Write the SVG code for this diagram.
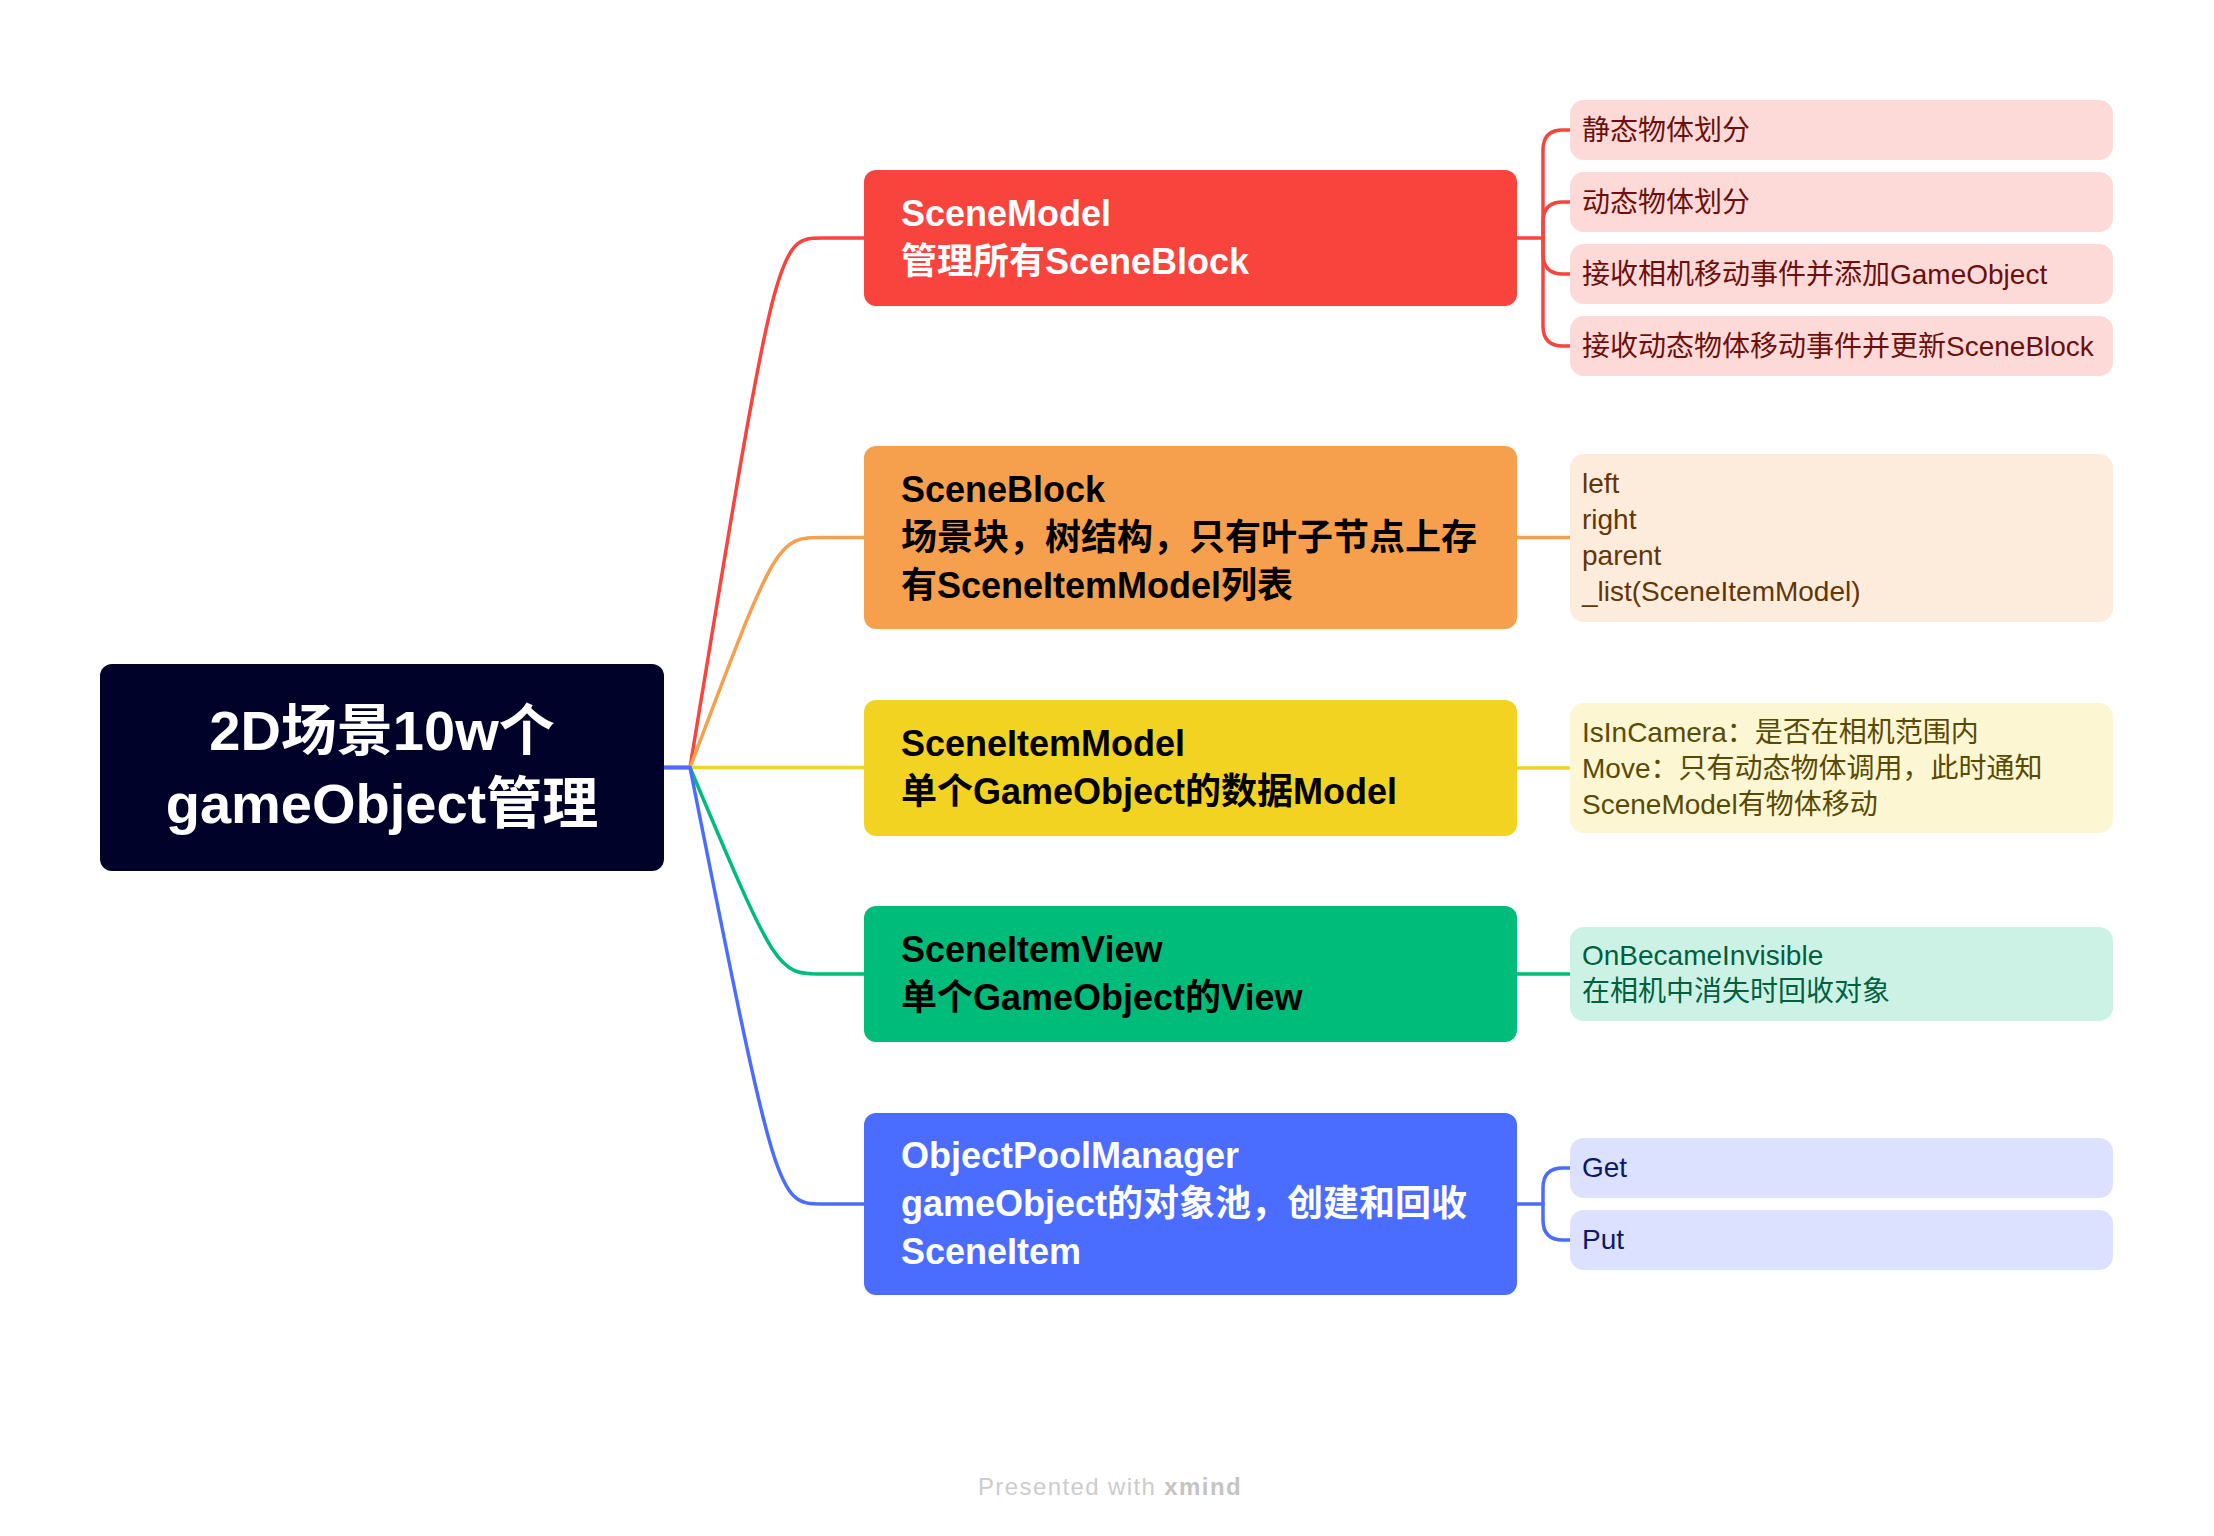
<svg xmlns="http://www.w3.org/2000/svg" width="2214" height="1536" viewBox="0 0 2214 1536">
<style>
text{font-family:"Liberation Sans","Noto Sans CJK SC",sans-serif}
.rt{font-size:56px;font-weight:bold;fill:#ffffff}
.mt{font-size:36px;font-weight:bold}
.lt{font-size:28px}
.w{fill:#ffffff}
.k{fill:#000000}
.cn{fill:none;stroke-width:3.5;stroke-linecap:round;stroke-linejoin:round}
.lf{}
</style>
<rect x="0" y="0" width="2214" height="1536" fill="#ffffff"/>
<g id="connectors">
  <path class="cn" stroke="#F9443E" d="M664 767.5 H690 C777 238 777 238 823 238 H864"/>
  <path class="cn" stroke="#F6A04D" d="M664 767.5 H690 C777 537.5 777 537.5 823 537.5 H864"/>
  <path class="cn" stroke="#F2D321" d="M664 767.5 H864"/>
  <path class="cn" stroke="#00BC7B" d="M664 767.5 H690 C777 974 777 974 823 974 H864"/>
  <path class="cn" stroke="#4A6CFF" d="M664 767.5 H690 C777 1204 777 1204 823 1204 H864"/>
  <path class="cn" stroke="#F9443E" d="M1517 238 H1543 V150 Q1543 130 1563 130 H1570"/>
  <path class="cn" stroke="#F9443E" d="M1543 238 V222 Q1543 202 1563 202 H1570"/>
  <path class="cn" stroke="#F9443E" d="M1543 238 V254 Q1543 274 1563 274 H1570"/>
  <path class="cn" stroke="#F9443E" d="M1543 238 V326 Q1543 346 1563 346 H1570"/>
  <path class="cn" stroke="#F6A04D" d="M1517 537.5 H1570"/>
  <path class="cn" stroke="#F2D321" d="M1517 768 H1570"/>
  <path class="cn" stroke="#00BC7B" d="M1517 974 H1570"/>
  <path class="cn" stroke="#4A6CFF" d="M1517 1204 H1543 V1188 Q1543 1168 1563 1168 H1570"/>
  <path class="cn" stroke="#4A6CFF" d="M1543 1204 V1220 Q1543 1240 1563 1240 H1570"/>
</g>
<g id="root">
  <rect x="100" y="664" width="564" height="207" rx="12" fill="#000229"/>
  <text class="rt" x="382" y="750" text-anchor="middle">2D场景10w个</text>
  <text class="rt" x="382" y="823" text-anchor="middle">gameObject管理</text>
</g>
<g id="scenemodel">
  <rect x="864" y="170" width="653" height="136" rx="12" fill="#F9443E"/>
  <text class="mt w" x="901" y="226">SceneModel</text>
  <text class="mt w" x="901" y="274">管理所有SceneBlock</text>
</g>
<g id="sceneblock">
  <rect x="864" y="446" width="653" height="183" rx="12" fill="#F6A04D"/>
  <text class="mt k" x="901" y="502">SceneBlock</text>
  <text class="mt k" x="901" y="550">场景块，树结构，只有叶子节点上存</text>
  <text class="mt k" x="901" y="598">有SceneItemModel列表</text>
</g>
<g id="sceneitemmodel">
  <rect x="864" y="700" width="653" height="136" rx="12" fill="#F2D321"/>
  <text class="mt k" x="901" y="756">SceneItemModel</text>
  <text class="mt k" x="901" y="804">单个GameObject的数据Model</text>
</g>
<g id="sceneitemview">
  <rect x="864" y="906" width="653" height="136" rx="12" fill="#00BC7B"/>
  <text class="mt k" x="901" y="962">SceneItemView</text>
  <text class="mt k" x="901" y="1010">单个GameObject的View</text>
</g>
<g id="objectpoolmanager">
  <rect x="864" y="1113" width="653" height="182" rx="12" fill="#4A6CFF"/>
  <text class="mt w" x="901" y="1168">ObjectPoolManager</text>
  <text class="mt w" x="901" y="1216">gameObject的对象池，创建和回收</text>
  <text class="mt w" x="901" y="1264">SceneItem</text>
</g>
<g id="leaf-static">
  <rect x="1570" y="100" width="543" height="60" rx="14" fill="#FDDAD8"/>
  <text class="lt" x="1582" y="140" fill="#6B100D">静态物体划分</text>
</g>
<g id="leaf-dynamic">
  <rect x="1570" y="172" width="543" height="60" rx="14" fill="#FDDAD8"/>
  <text class="lt" x="1582" y="212" fill="#6B100D">动态物体划分</text>
</g>
<g id="leaf-camera">
  <rect x="1570" y="244" width="543" height="60" rx="14" fill="#FDDAD8"/>
  <text class="lt" x="1582" y="284" fill="#6B100D">接收相机移动事件并添加GameObject</text>
</g>
<g id="leaf-update">
  <rect x="1570" y="316" width="543" height="60" rx="14" fill="#FDDAD8"/>
  <text class="lt" x="1582" y="356" fill="#6B100D">接收动态物体移动事件并更新SceneBlock</text>
</g>
<g id="leaf-block">
  <rect x="1570" y="454" width="543" height="168" rx="14" fill="#FDECDB"/>
  <text class="lt" x="1582" y="493" fill="#633608">left</text>
  <text class="lt" x="1582" y="529" fill="#633608">right</text>
  <text class="lt" x="1582" y="565" fill="#633608">parent</text>
  <text class="lt" x="1582" y="601" fill="#633608">_list(SceneItemModel)</text>
</g>
<g id="leaf-itemmodel">
  <rect x="1570" y="703" width="543" height="130" rx="14" fill="#FCF6D3"/>
  <text class="lt" x="1582" y="742" fill="#594A05">IsInCamera：是否在相机范围内</text>
  <text class="lt" x="1582" y="778" fill="#594A05">Move：只有动态物体调用，此时通知</text>
  <text class="lt" x="1582" y="814" fill="#594A05">SceneModel有物体移动</text>
</g>
<g id="leaf-itemview">
  <rect x="1570" y="927" width="543" height="94" rx="14" fill="#CCF2E5"/>
  <text class="lt" x="1582" y="965" fill="#00603F">OnBecameInvisible</text>
  <text class="lt" x="1582" y="1001" fill="#00603F">在相机中消失时回收对象</text>
</g>
<g id="leaf-get">
  <rect x="1570" y="1138" width="543" height="60" rx="14" fill="#DBE1FE"/>
  <text class="lt" x="1582" y="1177" fill="#0C1A66">Get</text>
</g>
<g id="leaf-put">
  <rect x="1570" y="1210" width="543" height="60" rx="14" fill="#DBE1FE"/>
  <text class="lt" x="1582" y="1249" fill="#0C1A66">Put</text>
</g>
<text x="1110" y="1495" text-anchor="middle" font-size="24" letter-spacing="1.4" fill="#cccccc">Presented with <tspan font-weight="bold" fill="#c4c4c4">xmind</tspan></text>
</svg>
